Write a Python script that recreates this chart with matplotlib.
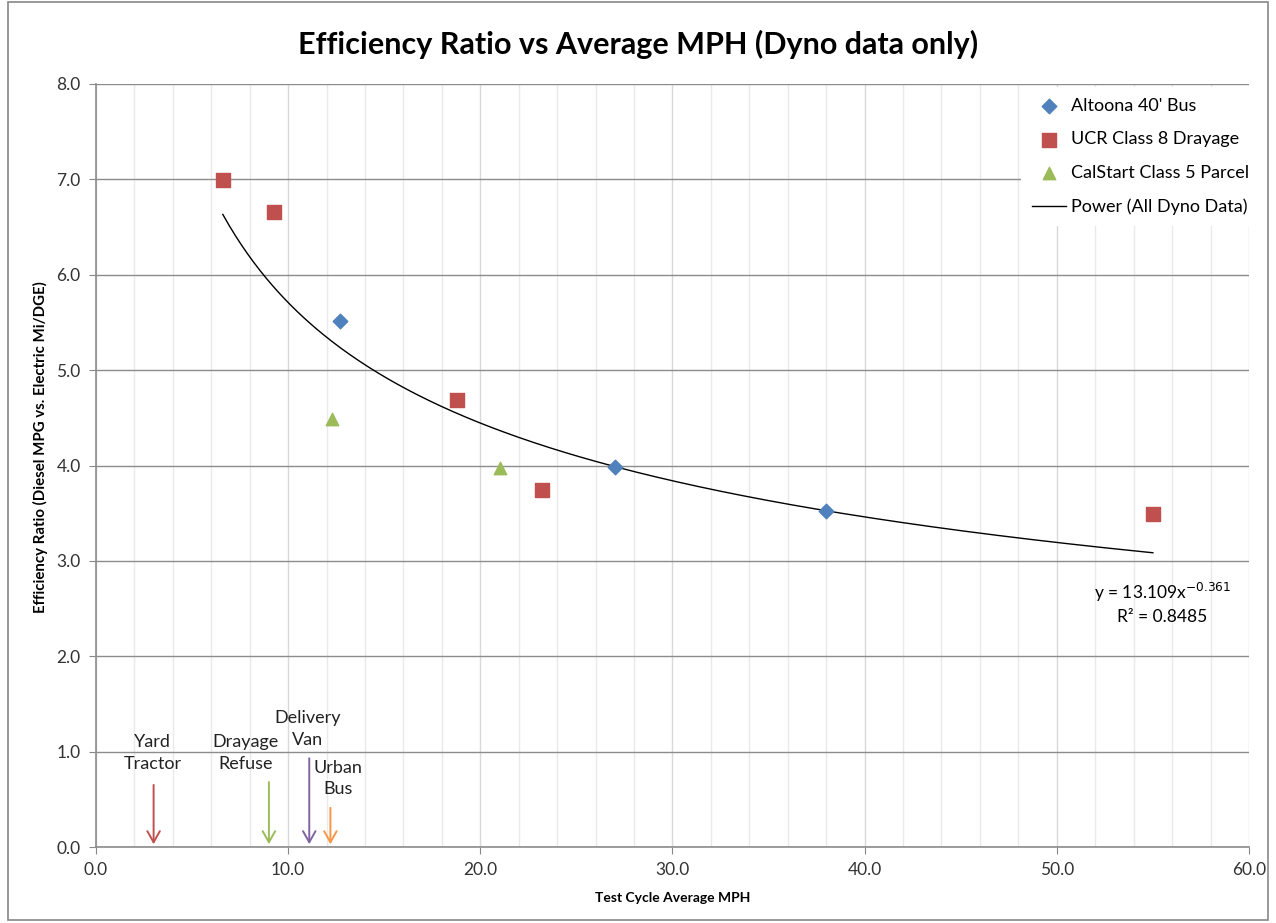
import matplotlib
matplotlib.use("Agg")
import matplotlib.pyplot as plt
import numpy as np
from matplotlib.ticker import MultipleLocator, FormatStrFormatter
from matplotlib.patches import Rectangle

plt.rcParams['font.family'] = ['Lato', 'DejaVu Sans']

# data
altoona_mph = [12.7, 27.0, 38.0]
altoona_ratio = [5.51, 3.98, 3.52]
ucr_mph = [6.6, 9.25, 18.8, 23.2, 55.0]
ucr_ratio = [6.99, 6.66, 4.69, 3.74, 3.49]
calstart_mph = [12.3, 21.0]
calstart_ratio = [4.49, 3.97]

# power trendline as printed on the chart
fit_a = 13.109
fit_b = -0.361
fit_range = (6.6, 55.0)

# vocation markers along the x axis
voc_labels = ["Yard\nTractor", "Drayage\nRefuse", "Delivery\nVan", "Urban\nBus"]
voc_mph = [3.0, 9.0, 11.1, 12.2]
voc_arrow_top = [0.68, 0.71, 0.96, 0.44]
voc_label_x = [2.95, 7.8, 11.0, 12.6]
voc_label_y = [0.79, 0.79, 1.04, 0.52]
voc_colors = ["#C0504D", "#9BBB59", "#8064A2", "#F79646"]

fig = plt.figure(figsize=(12.76, 9.23), dpi=100)
fig.patches.append(Rectangle((0.006, 0.003), 0.988, 0.995, transform=fig.transFigure,
                             fill=False, edgecolor="#888888", linewidth=1.2))
ax = fig.add_axes([0.0752, 0.0823, 0.9036, 0.8267])

ax.scatter(altoona_mph, altoona_ratio, marker="D", s=55, color="#4F81BD",
           label="Altoona 40' Bus", zorder=3)
ax.scatter(ucr_mph, ucr_ratio, marker="s", s=110, color="#C0504D",
           label="UCR Class 8 Drayage", zorder=3)
ax.scatter(calstart_mph, calstart_ratio, marker="^", s=80, color="#9BBB59",
           label="CalStart Class 5 Parcel", zorder=3)

xs = np.linspace(fit_range[0], fit_range[1], 300)
ax.plot(xs, fit_a * xs ** fit_b, color="black", linewidth=1.0,
        label="Power (All Dyno Data)", zorder=2)

for lab, x, top, lx, ly, c in zip(voc_labels, voc_mph, voc_arrow_top,
                                  voc_label_x, voc_label_y, voc_colors):
    ax.annotate("", xy=(x, 0.0), xytext=(x, top),
                arrowprops=dict(arrowstyle="->,head_length=0.8,head_width=0.45",
                                color=c, linewidth=1.4), zorder=4)
    ax.text(lx, ly, lab, ha="center", va="bottom", fontsize=13,
            color="#222222", linespacing=1.45)

ax.text(55.5, 2.33, "y = 13.109x$^{-0.361}$\nR² = 0.8485", ha="center", va="bottom",
        fontsize=12.5, linespacing=1.35)

ax.set_xlim(0, 60)
ax.set_ylim(0, 8)
ax.xaxis.set_major_locator(MultipleLocator(10))
ax.xaxis.set_minor_locator(MultipleLocator(2))
ax.yaxis.set_major_locator(MultipleLocator(1))
ax.xaxis.set_major_formatter(FormatStrFormatter("%.1f"))
ax.yaxis.set_major_formatter(FormatStrFormatter("%.1f"))
ax.tick_params(axis="both", which="major", labelsize=12.5, length=5, color="#888888",
               labelcolor="#333333", pad=6)
ax.tick_params(axis="x", which="minor", length=0)

ax.grid(axis="y", which="major", color="#8C8C8C", linewidth=1.0)
ax.grid(axis="x", which="major", color="#D9D9D9", linewidth=1.0)
ax.grid(axis="x", which="minor", color="#EAEAEA", linewidth=1.0)
ax.set_axisbelow(True)

for side in ["top", "right"]:
    ax.spines[side].set_visible(False)
for side in ["left", "bottom"]:
    ax.spines[side].set_color("#8C8C8C")
    ax.spines[side].set_linewidth(1.2)

ax.set_xlabel("Test Cycle Average MPH", fontsize=10, fontweight="bold", labelpad=10)
ax.set_ylabel("Efficiency Ratio (Diesel MPG vs. Electric Mi/DGE)", fontsize=10.8,
              fontweight="bold")
ax.yaxis.set_label_coords(-0.042, 0.524)
fig.suptitle("Efficiency Ratio vs Average MPH (Dyno data only)", fontsize=22,
             fontweight="bold", y=0.968)

leg = ax.legend(loc="upper right", bbox_to_anchor=(1.017, 1.008), fontsize=13,
                frameon=True, framealpha=1.0, edgecolor="none", facecolor="white",
                labelspacing=0.98, handlelength=1.9, handletextpad=0.25,
                borderpad=0.6, scatterpoints=1, fancybox=False)
leg.set_zorder(5)

fig.savefig("out.png", dpi=100)
